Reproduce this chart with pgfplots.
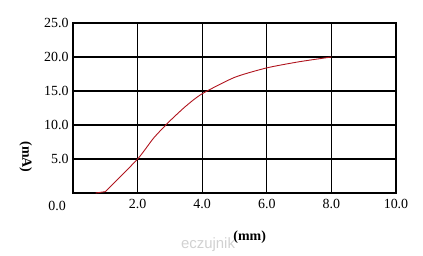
\documentclass[border=0pt]{standalone}
\usepackage{fontspec}
\setmainfont{Liberation Serif}
\newfontfamily\wmfont{Liberation Sans}
\usepackage{pgfplots}
\pgfplotsset{compat=1.18}
\definecolor{curvered}{HTML}{B0141E}
\begin{document}
\begin{tikzpicture}
\begin{axis}[
  name=ax,
  scale only axis,
  width=323bp, height=170bp,
  xmin=0, xmax=10, ymin=0, ymax=25,
  xtick={2,4,6,8,10}, ytick={5,10,15,20,25},
  major tick length=0pt,
  grid=major,
  grid style={black, line width=1.1pt},
  axis line style={black, line width=1.1pt},
  tick label style={font=\fontsize{14}{16}\selectfont},
  /pgf/number format/assume math mode=true,
  xticklabel={\pgfmathprintnumber[fixed,precision=1,zerofill]{\tick}},
  yticklabel={\pgfmathprintnumber[fixed,precision=1,zerofill]{\tick}},
  xticklabel style={yshift=-3bp},
  yticklabel style={xshift=-1bp},
  xlabel={(mm)},
  xlabel style={at={(rel axis cs:0.547,0)}, anchor=center, yshift=-44bp, font=\fontsize{14}{16}\selectfont\bfseries},
  ylabel={(mA)},
  ylabel style={at={(rel axis cs:-0.146,0.212)}, anchor=center, rotate=180, font=\fontsize{14}{16}\selectfont\bfseries},
  clip=false,
]
\addplot[curvered, line width=0.9pt] coordinates {
 (0.7,0) (1.0,0.2)
};
\addplot[curvered, line width=0.9pt, smooth, tension=0.4] coordinates {
 (1.0,0.2) (2.0,5.0) (2.5,8.1) (3.0,10.6) (3.5,12.8) (4.0,14.6) (5.0,17.0) (6.0,18.4) (7.0,19.3) (8.0,20.0)
};
\node[anchor=east, font=\fontsize{14}{16}\selectfont, inner sep=0pt] at (axis cs:0,0) [xshift=-7bp, yshift=-13bp] {0.0};
\end{axis}
\node[font=\fontsize{15}{17}\selectfont\wmfont, text=black!18] at ([shift={(135bp,-52bp)}]ax.south west) {eczujnik};
\path[use as bounding box] ([shift={(-73bp,-63bp)}]ax.south west) rectangle ++(423bp,256bp);
\end{tikzpicture}
\end{document}
